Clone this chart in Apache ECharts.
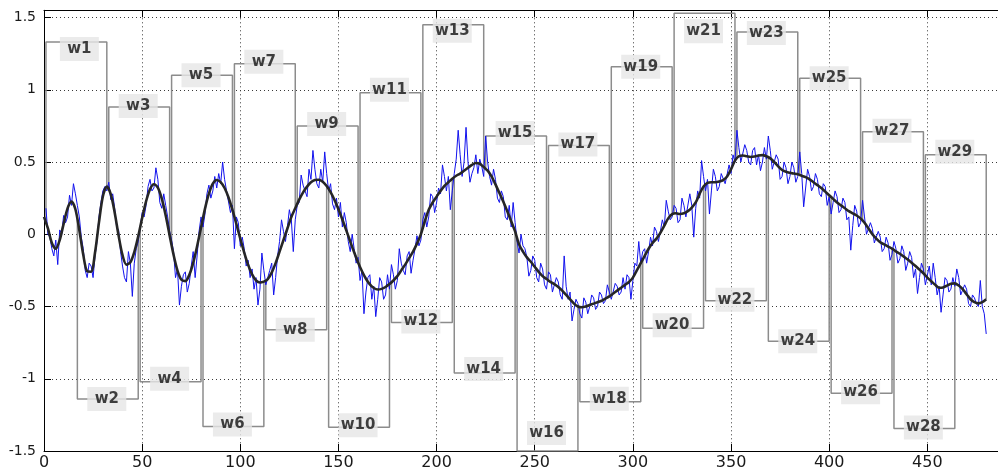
<!DOCTYPE html>
<html>
<head>
<meta charset="utf-8">
<script src="https://cdn.jsdelivr.net/npm/echarts@6/dist/echarts.min.js"></script>
<style>
  html, body { margin: 0; padding: 0; background: #ffffff; }
  #chart { width: 998px; height: 471px; }
</style>
</head>
<body>
<div id="chart"></div>
<script>
// Noisy signal, one value per sample index 1 ... 480
const rawStart = 1;
const rawStep = 1;
const rawSignal = [
  0.18, 0.0, -0.02, -0.1, -0.15, -0.04, -0.21, 0.03, 0.0, 0.13,
  0.08, 0.12, 0.27, 0.2, 0.35, 0.28, 0.2, 0.12, -0.02, -0.1,
  -0.25, -0.3, -0.2, -0.22, -0.3, -0.15, -0.05, 0.12, 0.22, 0.3,
  0.33, 0.3, 0.36, 0.24, 0.28, 0.18, 0.05, 0.03, -0.12, -0.22,
  -0.3, -0.33, -0.12, -0.2, -0.43, -0.2, -0.1, -0.05, 0.05, 0.15,
  0.12, 0.2, 0.33, 0.38, 0.3, 0.32, 0.46, 0.38, 0.22, 0.18,
  0.28, 0.2, 0.12, 0.02, -0.04, -0.12, -0.3, -0.24, -0.49, -0.36,
  -0.28, -0.26, -0.4, -0.34, -0.22, -0.12, -0.3, -0.15, 0.02, 0.12,
  0.05, 0.14, 0.28, 0.34, 0.25, 0.3, 0.4, 0.32, 0.42, 0.35,
  0.5, 0.38, 0.3, 0.3, 0.15, 0.2, -0.1, 0.12, 0.08, -0.08,
  -0.02, -0.1, -0.22, -0.18, -0.3, -0.24, -0.38, -0.3, -0.49, -0.38,
  -0.13, -0.25, -0.35, -0.36, -0.25, -0.2, -0.42, -0.3, -0.15, -0.05,
  0.1, 0.02, -0.05, 0.05, 0.17, 0.1, -0.12, 0.1, 0.2, 0.22,
  0.41, 0.34, 0.3, 0.26, 0.45, 0.38, 0.58, 0.45, 0.35, 0.32,
  0.45, 0.36, 0.57, 0.42, 0.3, 0.35, 0.21, 0.17, 0.25, 0.12,
  0.22, 0.05, 0.15, 0.08, -0.05, -0.12, 0.0, -0.1, -0.2, -0.16,
  -0.32, -0.25, -0.55, -0.4, -0.3, -0.28, -0.45, -0.36, -0.57, -0.45,
  -0.3, -0.33, -0.45, -0.42, -0.28, -0.38, -0.21, -0.28, -0.38, -0.32,
  -0.1, -0.2, -0.25, -0.28, -0.15, -0.12, -0.27, -0.18, -0.1, -0.01,
  -0.08, -0.04, 0.1, 0.15, 0.05, 0.12, 0.28, 0.26, 0.15, 0.22,
  0.32, 0.28, 0.48, 0.4, 0.3, 0.4, 0.17, 0.3, 0.42, 0.52,
  0.72, 0.55, 0.4, 0.5, 0.74, 0.5, 0.36, 0.42, 0.46, 0.55,
  0.42, 0.52, 0.47, 0.4, 0.68, 0.5, 0.4, 0.34, 0.45, 0.38,
  0.25, 0.22, 0.3, 0.26, 0.12, 0.1, 0.2, 0.05, 0.22, 0.08,
  -0.05, -0.13, 0.0, -0.08, -0.1, -0.16, -0.29, -0.25, -0.15, -0.18,
  -0.3, -0.33, -0.2, -0.24, -0.35, -0.38, -0.26, -0.28, -0.4, -0.4,
  -0.3, -0.33, -0.42, -0.45, -0.15, -0.36, -0.45, -0.4, -0.6, -0.52,
  -0.45, -0.48, -0.55, -0.58, -0.44, -0.47, -0.55, -0.5, -0.42, -0.44,
  -0.52, -0.5, -0.4, -0.42, -0.48, -0.46, -0.35, -0.4, -0.45, -0.44,
  -0.34, -0.36, -0.42, -0.4, -0.3, -0.38, -0.28, -0.3, -0.45, -0.32,
  -0.2, -0.22, -0.05, -0.2, -0.12, -0.1, -0.2, -0.12, -0.02, -0.08,
  0.05, 0.02, -0.05, 0.02, 0.1, 0.05, 0.235, 0.16, 0.1, 0.12,
  0.2, 0.18, 0.08, 0.1, 0.25, 0.2, 0.12, 0.13, 0.28, 0.2,
  -0.02, 0.18, 0.3, 0.25, 0.51, 0.4, 0.3, 0.38, 0.14, 0.3,
  0.45, 0.4, 0.3, 0.33, 0.42, 0.42, 0.35, 0.36, 0.48, 0.42,
  0.55, 0.5, 0.72, 0.6, 0.5, 0.5, 0.62, 0.58, 0.5, 0.48,
  0.58, 0.6, 0.48, 0.55, 0.44, 0.5, 0.6, 0.52, 0.68, 0.58,
  0.45, 0.46, 0.55, 0.52, 0.38, 0.4, 0.5, 0.46, 0.35, 0.4,
  0.5, 0.46, 0.36, 0.4, 0.57, 0.42, 0.19, 0.32, 0.45, 0.4,
  0.3, 0.33, 0.42, 0.38, 0.28, 0.26, 0.35, 0.33, 0.2, 0.26,
  0.14, 0.22, 0.3, 0.26, 0.15, 0.17, 0.25, 0.22, 0.1, 0.12,
  -0.11, 0.06, 0.2, 0.16, 0.05, 0.08, 0.235, 0.12, 0.0, -0.01,
  0.08, 0.04, -0.06, -0.07, 0.02, -0.02, -0.12, -0.1, -0.02, -0.06,
  -0.18, -0.14, -0.05, -0.1, -0.2, -0.17, -0.08, -0.12, -0.25, -0.2,
  -0.12, -0.16, -0.3, -0.24, -0.41, -0.3, -0.2, -0.24, -0.35, -0.36,
  -0.22, -0.35, -0.2, -0.3, -0.42, -0.36, -0.54, -0.42, -0.3, -0.32,
  -0.4, -0.38, -0.3, -0.36, -0.24, -0.3, -0.42, -0.42, -0.35, -0.38,
  -0.48, -0.5, -0.42, -0.44, -0.48, -0.5, -0.32, -0.5, -0.55, -0.69
];

// Smoothed trend, one value every 2 samples from 0 to 480
const trendStep = 2;
const trend = [
  0.12, 0.04, -0.06, -0.10, -0.04, 0.072, 0.179, 0.226, 0.173, 0.028,
  -0.142, -0.256, -0.259, -0.126, 0.082, 0.263, 0.33, 0.278, 0.151, -0.009,
  -0.145, -0.21, -0.194, -0.123, -0.014, 0.112, 0.228, 0.312, 0.346, 0.323,
  0.246, 0.13, -0.008, -0.142, -0.251, -0.315, -0.324, -0.282, -0.198, -0.083,
  0.047, 0.176, 0.281, 0.351, 0.376, 0.361, 0.32, 0.254, 0.168, 0.071,
  -0.03, -0.127, -0.212, -0.278, -0.319, -0.334, -0.328, -0.31, -0.265, -0.2,
  -0.12, -0.04, 0.04, 0.12, 0.18, 0.24, 0.29, 0.33, 0.36, 0.375,
  0.377, 0.363, 0.334, 0.292, 0.237, 0.173, 0.102, 0.027, -0.05, -0.125,
  -0.195, -0.256, -0.308, -0.347, -0.372, -0.382, -0.378, -0.365, -0.345, -0.32,
  -0.29, -0.25, -0.21, -0.165, -0.12, -0.065, 0.0, 0.09, 0.17, 0.22,
  0.26, 0.30, 0.335, 0.36, 0.385, 0.405, 0.42, 0.44, 0.46, 0.48,
  0.493, 0.488, 0.465, 0.44, 0.40, 0.345, 0.285, 0.225, 0.16, 0.09,
  0.02, -0.07, -0.12, -0.16, -0.19, -0.225, -0.26, -0.29, -0.31, -0.33,
  -0.345, -0.365, -0.39, -0.42, -0.45, -0.48, -0.50, -0.505, -0.50, -0.49,
  -0.48, -0.47, -0.46, -0.445, -0.43, -0.41, -0.39, -0.37, -0.35, -0.33,
  -0.30, -0.25, -0.20, -0.15, -0.10, -0.06, -0.03, 0.01, 0.06, 0.11,
  0.14, 0.145, 0.14, 0.145, 0.16, 0.185, 0.22, 0.28, 0.33, 0.355,
  0.36, 0.36, 0.365, 0.375, 0.40, 0.45, 0.51, 0.54, 0.545, 0.54,
  0.535, 0.538, 0.545, 0.548, 0.54, 0.525, 0.50, 0.47, 0.445, 0.432,
  0.425, 0.42, 0.415, 0.405, 0.395, 0.38, 0.36, 0.34, 0.32, 0.295,
  0.27, 0.245, 0.22, 0.20, 0.18, 0.16, 0.145, 0.13, 0.11, 0.08,
  0.04, 0.0, -0.03, -0.055, -0.07, -0.085, -0.10, -0.118, -0.135, -0.155,
  -0.175, -0.197, -0.22, -0.245, -0.27, -0.30, -0.325, -0.35, -0.37, -0.368,
  -0.355, -0.343, -0.34, -0.355, -0.38, -0.415, -0.45, -0.47, -0.478, -0.47,
  -0.45
];

// Analysis windows w1..w29 (32 samples each, 16 samples apart)
const winLabels = [
  'w1', 'w2', 'w3', 'w4', 'w5', 'w6', 'w7', 'w8', 'w9', 'w10',
  'w11', 'w12', 'w13', 'w14', 'w15', 'w16', 'w17', 'w18', 'w19', 'w20',
  'w21', 'w22', 'w23', 'w24', 'w25', 'w26', 'w27', 'w28', 'w29'
];
const winStart = [
  1, 17, 33, 49, 65, 81, 97, 113, 129, 145,
  161, 177, 193, 209, 225, 241, 257, 273, 289, 305,
  321, 337, 353, 369, 385, 401, 417, 433, 449
];
const winEnd = [
  32, 48, 64, 80, 96, 112, 128, 144, 160, 176,
  192, 208, 224, 240, 256, 272, 288, 304, 320, 336,
  352, 368, 384, 400, 416, 432, 448, 464, 480
];
const winLevel = [
  1.33, -1.14, 0.88, -1.02, 1.10, -1.33, 1.18, -0.66, 0.75, -1.335,
  0.98, -0.61, 1.45, -0.96, 0.68, -1.5, 0.615, -1.16, 1.16, -0.65,
  1.53, -0.46, 1.40, -0.74, 1.08, -1.10, 0.71, -1.345, 0.55
];
// Trend value where each window bracket meets the curve
const footStart = [
  0.07, 0.11, 0.3, 0.05, -0.07, 0.11, 0.12, -0.32, 0.21, 0.31,
  -0.23, -0.33, 0.04, 0.39, 0.45, -0.04, -0.32, -0.5, -0.42, -0.175,
  0.14, 0.34, 0.52, 0.53, 0.41, 0.26, 0.09, -0.11, -0.285
];
const footEnd = [
  0.33, -0.01, -0.01, 0.05, 0.17, -0.33, 0.18, 0.334, -0.195, -0.345,
  0.0, 0.385, 0.465, 0.02, -0.31, -0.5, -0.43, -0.2, 0.14, 0.33,
  0.51, 0.54, 0.415, 0.27, 0.11, -0.1, -0.27, -0.34, -0.45
];

// Axis tick labels
const xTickLabels = [0, 50, 100, 150, 200, 250, 300, 350, 400, 450];
const yTickLabels = [-1.5, -1, -0.5, 0, 0.5, 1, 1.5];

// Small pixel nudges for the window tags
const tagShiftX = [3, -1, -1, -1, -1, -1, -1, -1, -1, -1, -1, -1, -1, -1, -1, -1, -1, -1, -1, -1, -1, -1, -1, -1, -1, -1, -1, -1, -1];
const tagShiftY = [7, 0, -1, -3, 0, -2, -2, 0, -2, -2, -3, -1, 6, -4, -3, -18, -1, -3, 0, -3, 18, -1, 1, 0, 0, -1, -1, -1, -3];

const chart = echarts.init(document.getElementById('chart'), null, { renderer: 'canvas' });

const bracketStyle = { color: '#8c8c8c', width: 1.5 };
const series = [];

winLabels.forEach(function (name, i) {
  series.push({
    type: 'line',
    name: name,
    data: [
      [winStart[i], footStart[i]],
      [winStart[i], winLevel[i]],
      [winEnd[i], winLevel[i]],
      [winEnd[i], footEnd[i]]
    ],
    symbol: 'none',
    lineStyle: bracketStyle,
    z: 2,
    silent: true
  });
});

series.push({
  type: 'line',
  name: 'signal',
  data: rawSignal.map(function (v, i) { return [rawStart + i * rawStep, v]; }),
  symbol: 'none',
  lineStyle: { color: '#1212ee', width: 1 },
  z: 3,
  silent: true
});

series.push({
  type: 'line',
  name: 'trend',
  data: trend.map(function (v, i) { return [i * trendStep, v]; }),
  smooth: 0.3,
  symbol: 'none',
  lineStyle: { color: '#262626', width: 2.6 },
  z: 4,
  silent: true
});

series.push({
  type: 'scatter',
  name: 'tags',
  symbolSize: 0,
  z: 5,
  silent: true,
  data: winLabels.map(function (n, i) {
    return {
      name: n,
      value: [(winStart[i] + winEnd[i]) / 2, winLevel[i]],
      label: { offset: [tagShiftX[i], tagShiftY[i]] }
    };
  }),
  label: {
    show: true,
    position: 'inside',
    formatter: '{b}',
    fontFamily: 'DejaVu Sans',
    fontWeight: 'bold',
    fontSize: 15,
    color: '#111111',
    backgroundColor: '#e6e6e6',
    width: 39,
    height: 24,
    lineHeight: 26,
    align: 'center',
    verticalAlign: 'middle'
  }
});

const gridLine = { show: true, lineStyle: { color: '#3a3a3a', width: 1, type: [1, 3] } };
const axisBlack = { show: true, onZero: false, lineStyle: { color: '#000000', width: 1 } };

chart.setOption({
  animation: false,
  backgroundColor: '#ffffff',
  grid: { left: 44, right: 0, top: 10.3, bottom: 19.3, containLabel: false },
  xAxis: [
    {
      type: 'value',
      position: 'bottom',
      min: 0,
      max: 486,
      interval: 50,
      axisLine: axisBlack,
      axisTick: { show: true, inside: true, length: 7, lineStyle: { color: '#000000' } },
      splitLine: gridLine,
      axisLabel: {
        show: true,
        margin: 4,
        fontFamily: 'DejaVu Sans',
        fontSize: 16,
        color: '#1a1a1a',
        showMaxLabel: false,
        formatter: function (v) { return xTickLabels.indexOf(v) >= 0 ? String(v) : ''; }
      }
    },
    {
      type: 'value',
      position: 'top',
      min: 0,
      max: 486,
      interval: 50,
      axisLine: axisBlack,
      axisTick: { show: true, inside: true, length: 7, lineStyle: { color: '#000000' } },
      splitLine: { show: false },
      axisLabel: { show: false }
    }
  ],
  yAxis: {
    type: 'value',
    min: -1.5,
    max: 1.55,
    interval: 0.5,
    axisLine: axisBlack,
    axisTick: { show: true, inside: true, length: 7, lineStyle: { color: '#000000' } },
    splitLine: gridLine,
    axisLabel: {
      show: true,
      margin: 8,
      fontFamily: 'DejaVu Sans',
      fontSize: 14,
      color: '#1a1a1a',
      formatter: function (v) {
        const r = Math.round(v * 10) / 10;
        return yTickLabels.indexOf(r) >= 0 && Math.abs(r - v) < 1e-6 ? String(r) : '';
      }
    }
  },
  series: series
});
</script>
</body>
</html>
